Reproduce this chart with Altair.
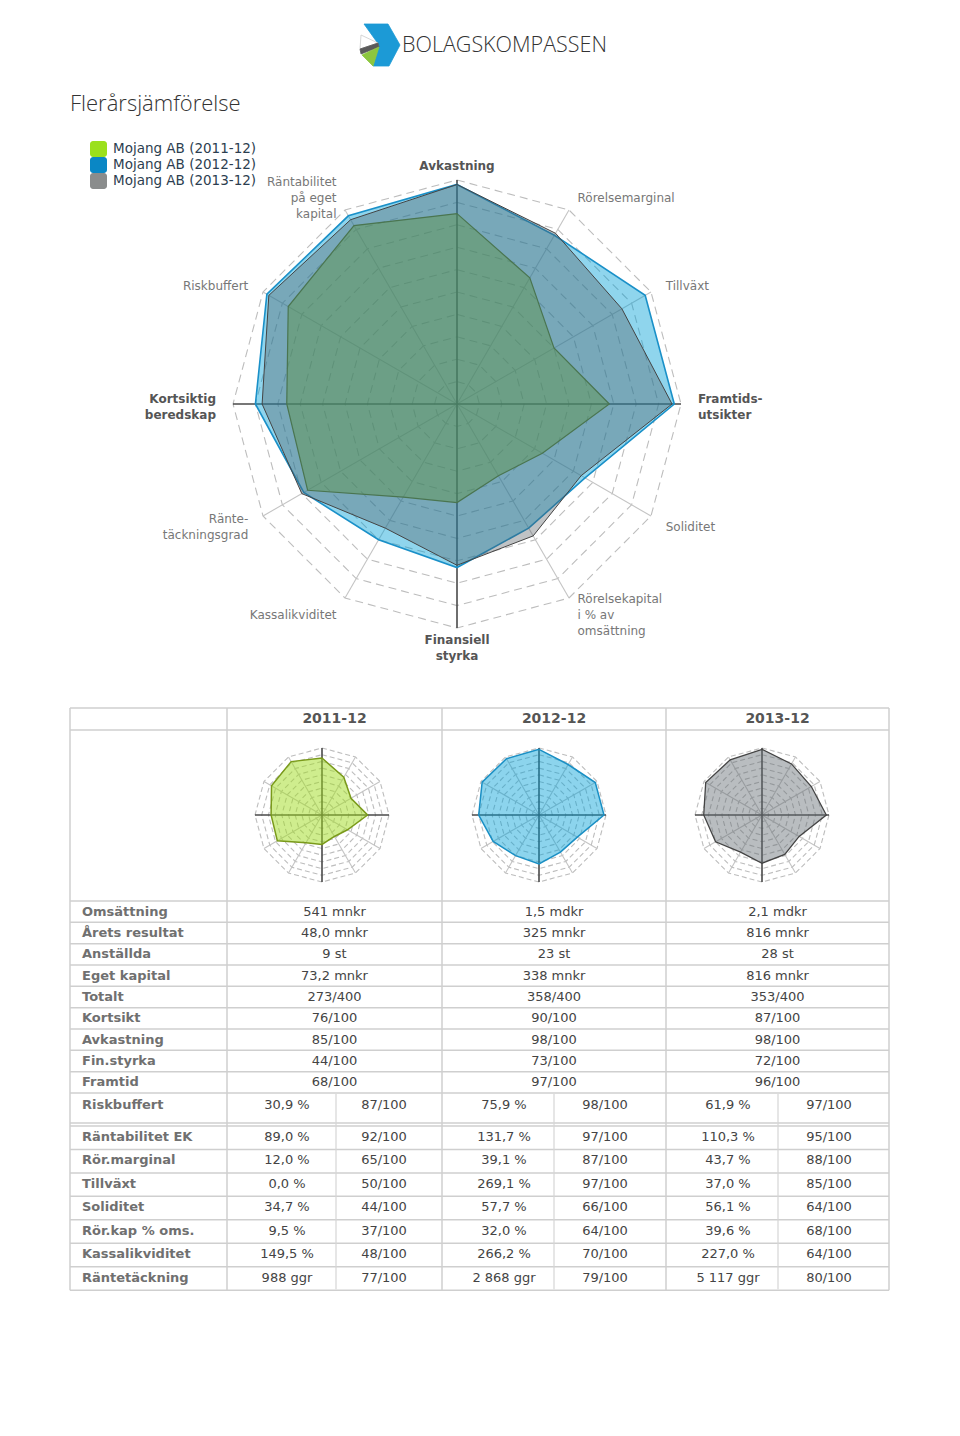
import math
import altair as alt
import pandas as pd

# ---------------- data ----------------
axis_labels = ["Avkastning", "Rörelsemarginal", "Tillväxt", "Framtids-\nutsikter",
               "Soliditet", "Rörelsekapital\ni % av\nomsättning", "Finansiell\nstyrka",
               "Kassalikviditet", "Ränte-\ntäckningsgrad", "Kortsiktig\nberedskap",
               "Riskbuffert", "Räntabilitet\npå eget\nkapital"]
main_axes = ["Avkastning", "Framtids-\nutsikter", "Finansiell\nstyrka", "Kortsiktig\nberedskap"]
years = ["2011-12", "2012-12", "2013-12"]
company = "Mojang AB"
scores_2011 = [85, 65, 50, 68, 44, 37, 44, 48, 77, 76, 87, 92]
scores_2012 = [98, 87, 97, 97, 66, 64, 73, 70, 79, 90, 98, 97]
scores_2013 = [98, 88, 85, 96, 64, 68, 72, 64, 80, 87, 97, 95]
scores = [scores_2011, scores_2012, scores_2013]

fin_labels = ["Omsättning", "Årets resultat", "Anställda", "Eget kapital"]
fin_2011 = ["541 mnkr", "48,0 mnkr", "9 st", "73,2 mnkr"]
fin_2012 = ["1,5 mdkr", "325 mnkr", "23 st", "338 mnkr"]
fin_2013 = ["2,1 mdkr", "816 mnkr", "28 st", "816 mnkr"]
fins = [fin_2011, fin_2012, fin_2013]

score_labels = ["Totalt", "Kortsikt", "Avkastning", "Fin.styrka", "Framtid"]
score_axes = [9, 0, 6, 3]  # Kortsikt, Avkastning, Fin.styrka, Framtid

key_labels = ["Riskbuffert", "Räntabilitet EK", "Rör.marginal", "Tillväxt", "Soliditet",
              "Rör.kap % oms.", "Kassalikviditet", "Räntetäckning"]
key_axes = [10, 11, 1, 2, 4, 5, 7, 8]
key_2011 = ["30,9 %", "89,0 %", "12,0 %", "0,0 %", "34,7 %", "9,5 %", "149,5 %", "988 ggr"]
key_2012 = ["75,9 %", "131,7 %", "39,1 %", "269,1 %", "57,7 %", "32,0 %", "266,2 %", "2 868 ggr"]
key_2013 = ["61,9 %", "110,3 %", "43,7 %", "37,0 %", "56,1 %", "39,6 %", "227,0 %", "5 117 ggr"]
keys = [key_2011, key_2012, key_2013]

# ---------------- layout / style ----------------
X0, X1, Y0, Y1 = 8, 952, 8, 1420
W, H = X1 - X0, Y1 - Y0
xs = alt.Scale(domain=[X0, X1], nice=False, zero=False)
ys = alt.Scale(domain=[Y0, Y1], nice=False, zero=False, reverse=True)
FONT = "DejaVu Sans"

CX, CY, R, LABEL_R = 457, 404, 224, 241
LABEL_DY = 2.5
SMALL_C = [(322, 815), (539, 815), (762, 815)]
SMALL_R = 67
LH = 16

main_fill = [("#5e9440", 0.42, "#4a7550", 1.2), ("#00a0d7", 0.44, "#1a90c8", 1.6), ("#50585f", 0.36, "#444444", 1.0)]
small_fill = [("#a0dc1e", 0.5, "#7a9a1a", 1.5), ("#00a0d7", 0.45, "#1a8fc4", 1.5), ("#646c73", 0.45, "#444444", 1.3)]
legend_colors = ["#9be01c", "#0a87c5", "#8a8c8c"]

TX0, TX1 = 70, 889
COLS = [227, 442, 666]
COL_C = [334.5, 554, 777.5]
VAL_C = [287, 504, 728]
SCORE_C = [384, 605, 829]
SUB_DIV = [336, 554, 778]
Y_HEAD = (708, 730)
Y_SUM0, SUM_H = 901, 21.33
Y_RISK = (1093, 1123)
Y_KEY0, KEY_H = 1126, 23.45
Y_END = Y_KEY0 + 7 * KEY_H


def X(field="x"):
    return alt.X(f"{field}:Q", scale=xs, axis=None)


def Y(field="y"):
    return alt.Y(f"{field}:Q", scale=ys, axis=None)


def polar(cx, cy, r, k, v):
    a = math.radians(30 * k)
    return cx + r * v / 100 * math.sin(a), cy - r * v / 100 * math.cos(a)


def rule_layer(rows, color, width, dash=None):
    df = pd.DataFrame(rows, columns=["x", "y", "x2", "y2"])
    kw = dict(color=color, strokeWidth=width)
    if dash:
        kw["strokeDash"] = dash
    return alt.Chart(df).mark_rule(**kw).encode(x=X(), y=Y(), x2="x2:Q", y2="y2:Q")


def poly_layer(rows, fill, opacity, stroke, width, dash=None):
    df = pd.DataFrame(rows, columns=["g", "i", "x", "y"])
    kw = dict(interpolate="linear-closed", stroke=stroke, strokeWidth=width)
    if fill:
        kw["fill"] = fill
        kw["fillOpacity"] = opacity
    if dash:
        kw["strokeDash"] = dash
    return alt.Chart(df).mark_line(**kw).encode(x=X(), y=Y(), detail="g:N", order="i:Q")


def text_layer(rows, size, color, align="left", weight="normal", font=FONT, lh=LH):
    df = pd.DataFrame(rows, columns=["x", "y", "t"])
    return alt.Chart(df).mark_text(align=align, baseline="middle", font=font, fontSize=size,
                                   fontWeight=weight, color=color, lineBreak="\n",
                                   lineHeight=lh).encode(x=X(), y=Y(), text="t:N")


def radar(cx, cy, r, vals_list, fills, dash):
    out = []
    rings = [(lvl, k) + polar(cx, cy, r, k, lvl) for lvl in range(10, 101, 10) for k in range(12)]
    out.append(poly_layer(rings, None, 0, "#bdbdbd", 1.1, dash))
    minor = [(cx, cy) + polar(cx, cy, r, k, 100) for k in range(12) if k % 3]
    major = [(cx, cy) + polar(cx, cy, r, k, 100) for k in range(12) if k % 3 == 0]
    out.append(rule_layer(minor, "#c4c4c4", 1.1))
    out.append(rule_layer(major, "#4a4a4a", 1.6))
    for vals, (f, op, st, w) in zip(vals_list, fills):
        pts = [(0, k) + polar(cx, cy, r, k, v) for k, v in enumerate(vals)]
        out.append(poly_layer(pts, f, op, st, w))
    return out


layers = []

# logo
logo_blue = [(364, 24), (388, 24), (400, 45), (389, 66), (373, 66), (379, 45)]
logo_white = [(361, 35), (378, 43), (360, 49)]
logo_gray = [(360, 49), (378, 43), (379, 47), (361, 54)]
logo_green = [(362, 55), (379, 47), (373, 66)]
for pts, col, st in [(logo_blue, "#1c9ad6", "#1c9ad6"), (logo_white, "#ffffff", "#cccccc"),
                     (logo_gray, "#5a5a5a", "#5a5a5a"), (logo_green, "#8cc63f", "#8cc63f")]:
    layers.append(poly_layer([(0, i, x, y) for i, (x, y) in enumerate(pts)], col, 1.0, st, 0.8))
layers.append(text_layer([(402, 46, "BOLAGSKOMPASSEN")], 21.5, "#333333", font="Open Sans", weight=300))

# title
layers.append(text_layer([(70, 104, "Flerårsjämförelse")], 22, "#333333", font="Open Sans", weight=300))

# legend
leg = pd.DataFrame({"s": [f"{company} ({y})" for y in years],
                    "y": [149, 165, 181]})
leg["x"], leg["x2"] = 90, 107
leg["y1"], leg["y2"] = leg["y"] - 8, leg["y"] + 8
layers.append(alt.Chart(leg).mark_rect(cornerRadius=3).encode(
    x=X(), x2="x2:Q", y=Y("y1"), y2="y2:Q",
    color=alt.Color("s:N", scale=alt.Scale(domain=leg["s"].tolist(), range=legend_colors), legend=None)))
layers.append(text_layer([(113, yy, s) for s, yy in zip(leg["s"], leg["y"])], 13.5, "#2c3e50"))

# main radar (drawn blue, gray, green)
order = [1, 2, 0]
layers += radar(CX, CY, R, [scores[i] for i in order], [main_fill[i] for i in order], [8, 5])

# radar labels (multi-line blocks centred on their anchor)
lab = {("left", "normal"): [], ("left", "bold"): [], ("center", "bold"): [],
       ("right", "normal"): [], ("right", "bold"): []}
for k, t in enumerate(axis_labels):
    x, y = polar(CX, CY, LABEL_R, k, 100)
    y += LABEL_DY - (t.count("\n")) * LH / 2
    al = "center" if k % 6 == 0 else ("left" if k < 6 else "right")
    wt = "bold" if t in main_axes else "normal"
    lab[(al, wt)].append((x, y, t))
for (al, wt), rows in lab.items():
    if rows:
        layers.append(text_layer(rows, 12, "#555555" if wt == "bold" else "#777777", align=al, weight=wt))

# table lines
hl = [(TX0, Y_HEAD[0]), (TX0, Y_HEAD[1])]
hl += [(TX0, Y_SUM0 + SUM_H * k) for k in range(10)]
hl += [(TX0, Y_RISK[1])] + [(TX0, Y_KEY0 + KEY_H * k) for k in range(8)]
layers.append(rule_layer([(x, y, TX1, y) for x, y in hl], "#cfcfcf", 1.5))
vl = [(x, Y_HEAD[0], x, Y_END) for x in [TX0] + COLS + [TX1]]
layers.append(rule_layer(vl, "#cfcfcf", 1.5))
layers.append(rule_layer([(x, Y_RISK[0] + 1, x, Y_END - 1) for x in SUB_DIV], "#d6d6d6", 1.2))

# small radars
for j in range(3):
    cx, cy = SMALL_C[j]
    layers += radar(cx, cy, SMALL_R, [scores[j]], [small_fill[j]], [5, 3])

# header
layers.append(text_layer([(COL_C[j], 719, years[j]) for j in range(3)], 14, "#555555", align="center", weight="bold"))

# row labels
row_y = [Y_SUM0 + SUM_H * (k + 0.5) for k in range(9)]
risk_y = Y_RISK[0] + 12
key_y = [risk_y] + [Y_KEY0 + KEY_H * (k + 0.5) - 0.7 for k in range(7)]
labels = list(zip([82] * 9, row_y, fin_labels + score_labels)) + list(zip([82] * 8, key_y, key_labels))
layers.append(text_layer(labels, 13, "#707070", weight="bold"))

# values
vals = []
for j in range(3):
    sc = scores[j]
    summ = fins[j] + [f"{sum(sc[a] for a in score_axes)}/400"] + [f"{sc[a]}/100" for a in score_axes]
    vals += [(COL_C[j], yy, t) for yy, t in zip(row_y, summ)]
    vals += [(VAL_C[j], yy, t) for yy, t in zip(key_y, keys[j])]
    vals += [(SCORE_C[j], yy, f"{sc[a]}/100") for yy, a in zip(key_y, key_axes)]
layers.append(text_layer(vals, 13, "#444444", align="center"))

chart = alt.layer(*layers).properties(
    width=W, height=H, padding=0, autosize=alt.AutoSizeParams(type="none")
).configure_view(stroke=None)

chart.save("out.html", embed_options={"renderer": "svg", "actions": False})
